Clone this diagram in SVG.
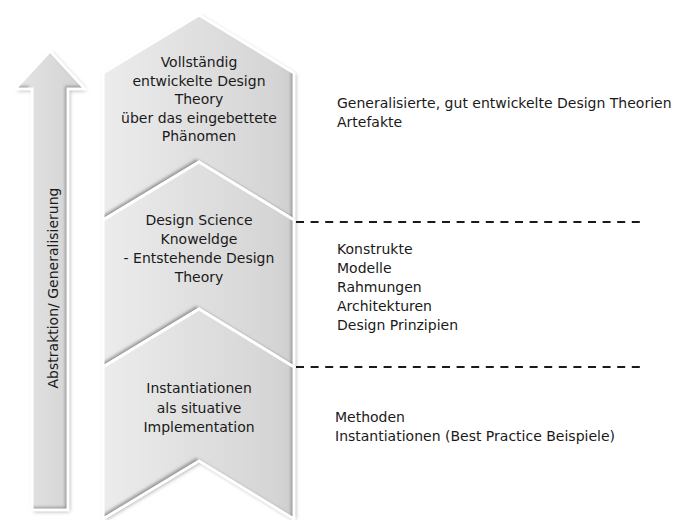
<svg xmlns="http://www.w3.org/2000/svg" width="678" height="520" viewBox="0 0 678 520">
  <style>
    text { font-family: "DejaVu Sans", "Liberation Sans", sans-serif; font-size: 14px; fill: #1a1a1a; }
    .mid { text-anchor: middle; }
    .edge { fill: none; stroke: #ffffff; stroke-width: 3; stroke-linejoin: miter; }
    .shadow { fill: #000; opacity: 0.35; filter: url(#soft); }
    .dash { stroke: #1a1a1a; stroke-width: 2; stroke-dasharray: 8 6.6; fill: none; }
  </style>
  <defs>
    <linearGradient id="face" x1="0" y1="0" x2="1" y2="0">
      <stop offset="0" stop-color="#ececec"/>
      <stop offset="0.9" stop-color="#d5d5d5"/>
      <stop offset="1" stop-color="#cdcdcd"/>
    </linearGradient>
    <linearGradient id="shaft" x1="0" y1="0" x2="1" y2="0">
      <stop offset="0" stop-color="#e4e4e4"/>
      <stop offset="1" stop-color="#d2d2d2"/>
    </linearGradient>
    <filter id="soft" x="-20%" y="-20%" width="140%" height="140%">
      <feGaussianBlur stdDeviation="2.2"/>
    </filter>
    <!-- darkens the inner bottom/right borders of a face -->
    <filter id="inset" x="-10%" y="-10%" width="120%" height="120%">
      <feComponentTransfer in="SourceAlpha" result="inv">
        <feFuncA type="table" tableValues="1 0"/>
      </feComponentTransfer>
      <feOffset in="inv" dx="-3" dy="-3" result="off"/>
      <feGaussianBlur in="off" stdDeviation="1.6" result="blur"/>
      <feFlood flood-color="#6e6e6e" flood-opacity="0.75"/>
      <feComposite in2="blur" operator="in"/>
      <feComposite in2="SourceAlpha" operator="in" result="inner"/>
      <feMerge>
        <feMergeNode in="SourceGraphic"/>
        <feMergeNode in="inner"/>
      </feMerge>
    </filter>
  </defs>

  <rect width="678" height="520" fill="#ffffff"/>

  <!-- upward arrow on the left -->
  <g id="axis-arrow">
    <polygon class="shadow" transform="translate(1.5,1.5)" points="50,51 85,89 68,89 68,510 32,510 32,89 15,89"/>
    <polygon fill="url(#shaft)" filter="url(#inset)" points="50,51 85,89 68,89 68,510 32,510 32,89 15,89"/>
    <polygon class="edge" points="50,51 85,89 68,89 68,510 32,510 32,89 15,89"/>
    <text class="mid" transform="translate(58,288) rotate(-90)">Abstraktion/ Generalisierung</text>
  </g>

  <!-- stacked chevrons, top to bottom -->
  <g id="level-theory">
    <polygon class="shadow" transform="translate(1.5,1.5)" points="199,15 294,73 294,220 199,162 103,220 103,73"/>
    <polygon fill="url(#face)" filter="url(#inset)" points="199,15 294,73 294,220 199,162 103,220 103,73"/>
    <polygon class="edge" points="199,15 294,73 294,220 199,162 103,220 103,73"/>
    <text class="mid" x="199" y="67">Vollständig</text>
    <text class="mid" x="199" y="86">entwickelte Design</text>
    <text class="mid" x="199" y="104">Theory</text>
    <text class="mid" x="199" y="123">über das eingebettete</text>
    <text class="mid" x="199" y="141">Phänomen</text>
  </g>

  <g id="level-knowledge">
    <polygon class="shadow" transform="translate(1.5,1.5)" points="199,162 294,220 294,367 199,309 103,367 103,220"/>
    <polygon fill="url(#face)" filter="url(#inset)" points="199,162 294,220 294,367 199,309 103,367 103,220"/>
    <polygon class="edge" points="199,162 294,220 294,367 199,309 103,367 103,220"/>
    <text class="mid" x="199" y="225">Design Science</text>
    <text class="mid" x="199" y="244">Knoweldge</text>
    <text class="mid" x="199" y="263">- Entstehende Design</text>
    <text class="mid" x="199" y="282">Theory</text>
  </g>

  <g id="level-instantiation">
    <polygon class="shadow" transform="translate(1.5,1.5)" points="199,309 294,367 294,519 199,461 103,519 103,367"/>
    <polygon fill="url(#face)" filter="url(#inset)" points="199,309 294,367 294,519 199,461 103,519 103,367"/>
    <polygon class="edge" points="199,309 294,367 294,519 199,461 103,519 103,367"/>
    <text class="mid" x="199" y="393">Instantiationen</text>
    <text class="mid" x="199" y="413">als situative</text>
    <text class="mid" x="199" y="432">Implementation</text>
  </g>

  <!-- level separators -->
  <g id="connectors">
    <line class="dash" x1="296" y1="222" x2="645" y2="222"/>
    <line class="dash" x1="296" y1="367" x2="645" y2="367"/>
  </g>

  <!-- outputs per level -->
  <g id="outputs-theory">
    <text x="337" y="108">Generalisierte, gut entwickelte Design Theorien</text>
    <text x="337" y="127">Artefakte</text>
  </g>
  <g id="outputs-knowledge">
    <text x="337" y="254">Konstrukte</text>
    <text x="337" y="273">Modelle</text>
    <text x="337" y="292">Rahmungen</text>
    <text x="337" y="311">Architekturen</text>
    <text x="337" y="330">Design Prinzipien</text>
  </g>
  <g id="outputs-instantiation">
    <text x="335" y="422">Methoden</text>
    <text x="335" y="441">Instantiationen (Best Practice Beispiele)</text>
  </g>
</svg>
